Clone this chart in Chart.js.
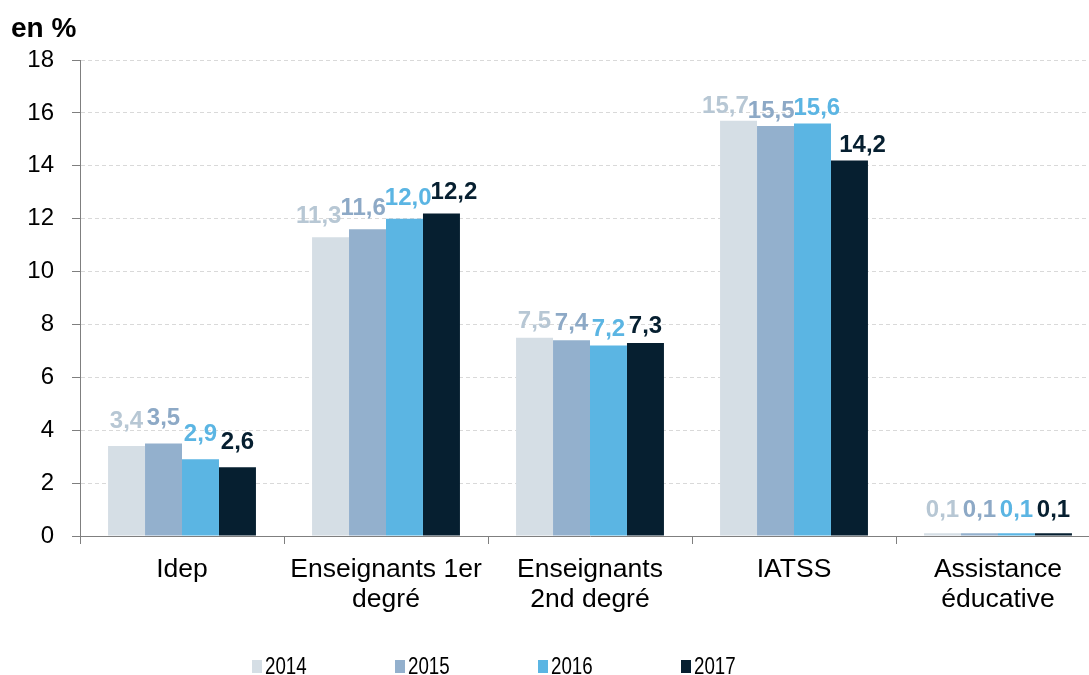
<!DOCTYPE html>
<html>
<head>
<meta charset="utf-8">
<script src="https://cdn.jsdelivr.net/npm/chart.js@4.4.1/dist/chart.umd.min.js"></script>
<style>
  html, body { margin: 0; padding: 0; background: #fff; overflow: hidden; }
  #wrap { width: 1104px; height: 675px; }
</style>
</head>
<body>
<div id="wrap"><canvas id="chart"></canvas></div>
<script>
const categories = ['Idep', ['Enseignants 1er', 'degré'], ['Enseignants', '2nd degré'], 'IATSS', ['Assistance', 'éducative']];
const years = ['2014', '2015', '2016', '2017'];
const values2014 = [3.4, 11.3, 7.5, 15.7, 0.1];
const values2015 = [3.5, 11.6, 7.4, 15.5, 0.1];
const values2016 = [2.9, 12.0, 7.2, 15.6, 0.1];
const values2017 = [2.6, 12.2, 7.3, 14.2, 0.1];
const yTicks = [0, 2, 4, 6, 8, 10, 12, 14, 16, 18];

const barColors = ['#D5DEE5', '#93B0CD', '#5BB5E3', '#061F30'];
const labelColors = ['#B7C7D4', '#8DA9C6', '#5BB5E3', '#061F30'];
const labelGap = [18, 14, 10, 8, 16];

const FONT = '"Liberation Sans", Arial, sans-serif';

// value labels above the bars, nudged sideways when neighbours collide
const valueLabels = {
  id: 'valueLabels',
  afterDatasetsDraw(chart) {
    const ctx = chart.ctx;
    const yScale = chart.scales.y;
    ctx.save();
    ctx.font = 'bold 24px ' + FONT;
    ctx.textAlign = 'center';
    ctx.textBaseline = 'alphabetic';
    categories.forEach((_, j) => {
      const items = chart.data.datasets.map((ds, i) => {
        const bar = chart.getDatasetMeta(i).data[j];
        const text = ds.data[j].toFixed(1).replace('.', ',');
        return { text, x: bar.x, barX: bar.x, w: ctx.measureText(text).width, y: yScale.getPixelForValue(ds.data[j]) - labelGap[j], color: labelColors[i] };
      });
      for (let k = 1; k < items.length; k++) {
        const minX = items[k - 1].x + (items[k - 1].w + items[k].w) / 2 - 1;
        if (items[k].x < minX) items[k].x = minX;
      }
      const shift = items.reduce((s, it) => s + it.x - it.barX, 0) / items.length;
      items.forEach(it => {
        ctx.fillStyle = it.color;
        ctx.fillText(it.text, it.x - shift, it.y);
      });
    });
    ctx.restore();
  }
};

// unit label in the top-left corner
const unitLabel = {
  id: 'unitLabel',
  afterDraw(chart) {
    const ctx = chart.ctx;
    ctx.save();
    ctx.font = 'bold 28px ' + FONT;
    ctx.fillStyle = '#000';
    ctx.textAlign = 'left';
    ctx.textBaseline = 'alphabetic';
    ctx.fillText('en %', 11, 37);
    ctx.restore();
  }
};

// legend row under the axis labels
const bottomLegend = {
  id: 'bottomLegend',
  afterDraw(chart) {
    const ctx = chart.ctx;
    ctx.save();
    ctx.font = '24px ' + FONT;
    ctx.textBaseline = 'alphabetic';
    chart.data.datasets.forEach((ds, i) => {
      const x = 252 + i * 143;
      ctx.fillStyle = ds.backgroundColor;
      ctx.fillRect(x, 660, 10, 13);
      ctx.fillStyle = '#000';
      ctx.save();
      ctx.translate(x + 13, 674);
      ctx.scale(0.78, 1);
      ctx.fillText(ds.label, 0, 0);
      ctx.restore();
    });
    ctx.restore();
  }
};

const seriesValues = [values2014, values2015, values2016, values2017];

new Chart(document.getElementById('chart'), {
  type: 'bar',
  data: {
    labels: categories,
    datasets: years.map((year, i) => ({
      label: year,
      data: seriesValues[i],
      backgroundColor: barColors[i],
      borderWidth: 0,
      barPercentage: 1,
      categoryPercentage: 0.725
    }))
  },
  options: {
    responsive: true,
    maintainAspectRatio: false,
    animation: false,
    layout: { padding: { top: 60, right: 4, bottom: 0, left: 0 } },
    plugins: {
      legend: { display: false },
      tooltip: { enabled: false }
    },
    scales: {
      x: {
        grid: { display: true, drawOnChartArea: false, offset: true, tickLength: 8, color: '#7f7f7f' },
        border: { color: '#7f7f7f', width: 1 },
        ticks: { color: '#000', font: { family: FONT, size: 26.5, lineHeight: 1.16 }, padding: 10, maxRotation: 0, autoSkip: false },
        afterFit: scale => { scale.height = 139; }
      },
      y: {
        min: 0,
        max: 18,
        afterBuildTicks: scale => { scale.ticks = yTicks.map(v => ({ value: v })); },
        grid: { color: '#d9d9d9', tickColor: '#7f7f7f', tickLength: 8 },
        border: { color: '#7f7f7f', width: 1, dash: [4, 3] },
        ticks: { color: '#000', font: { family: FONT, size: 24 }, padding: 18 },
        afterFit: scale => { scale.width = 80; }
      }
    }
  },
  plugins: [valueLabels, unitLabel, bottomLegend]
});
</script>
</body>
</html>
